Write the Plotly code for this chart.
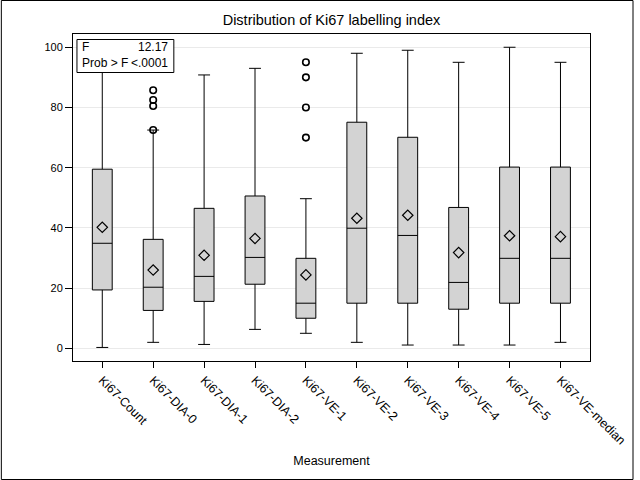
import plotly.graph_objects as go

categories = ["Ki67-Count", "Ki67-DIA-0", "Ki67-DIA-1", "Ki67-DIA-2", "Ki67-VE-1",
              "Ki67-VE-2", "Ki67-VE-3", "Ki67-VE-4", "Ki67-VE-5", "Ki67-VE-median"]
q1 = [19.4, 12.6, 15.6, 21.3, 10.0, 15.0, 15.0, 13.0, 15.0, 15.0]
median = [34.9, 20.3, 23.9, 30.2, 15.0, 39.9, 37.5, 21.9, 29.9, 29.9]
q3 = [59.5, 36.2, 46.5, 50.6, 29.9, 75.1, 70.1, 46.8, 60.2, 60.2]
lower = [0.3, 2.0, 1.3, 6.3, 5.0, 2.0, 1.1, 1.1, 1.1, 2.0]
upper = [100.0, 72.5, 90.8, 93.0, 49.7, 98.0, 99.0, 95.0, 100.0, 95.0]
means = [40.2, 26.0, 30.9, 36.5, 24.4, 43.2, 44.2, 31.8, 37.4, 37.1]
outlier_cat = ["Ki67-DIA-0", "Ki67-DIA-0", "Ki67-DIA-0", "Ki67-DIA-0",
               "Ki67-VE-1", "Ki67-VE-1", "Ki67-VE-1", "Ki67-VE-1"]
outlier_val = [85.7, 82.5, 80.5, 72.5, 95.0, 90.0, 80.0, 70.0]
y_ticks = [0, 20, 40, 60, 80, 100]

FONT = "Liberation Sans, Arial, sans-serif"

fig = go.Figure()
fig.add_trace(go.Box(
    x=categories, q1=q1, median=median, q3=q3,
    lowerfence=lower, upperfence=upper,
    boxpoints=False, width=0.39, whiskerwidth=0.6,
    fillcolor="#D3D3D3", line=dict(color="black", width=1),
    showlegend=False, hoverinfo="skip",
))
fig.add_trace(go.Scatter(
    x=outlier_cat, y=outlier_val, mode="markers",
    marker=dict(symbol="circle-open", size=6.5, color="black", line=dict(width=1.6)),
    showlegend=False,
))
fig.add_trace(go.Scatter(
    x=categories, y=means, mode="markers",
    marker=dict(symbol="diamond-open", size=8, color="black", line=dict(width=1.2)),
    showlegend=False,
))

L, R, T, B = 73, 44, 34, 119
W = 640 - L - R
H = 480 - T - B

def px_x(p):
    return (p - L) / W

def px_y(p):
    return 1 - (p - T) / H

shapes = [
    dict(type="rect", xref="paper", yref="paper",
         x0=px_x(0.5), x1=px_x(639.5), y0=px_y(479.5), y1=px_y(0.5),
         line=dict(color="black", width=1)),
    dict(type="rect", xref="paper", yref="paper",
         x0=px_x(77), x1=px_x(175), y0=px_y(72.5), y1=px_y(39.5),
         line=dict(color="black", width=1), fillcolor="white", layer="above"),
]
annotations = [
    dict(text="F", xref="paper", yref="paper", x=px_x(80.5), y=px_y(47),
         xanchor="left", yanchor="middle", showarrow=False, font=dict(size=12, color="black", family=FONT)),
    dict(text="12.17", xref="paper", yref="paper", x=px_x(171), y=px_y(47),
         xanchor="right", yanchor="middle", showarrow=False, font=dict(size=12, color="black", family=FONT)),
    dict(text="Prob > F", xref="paper", yref="paper", x=px_x(80.5), y=px_y(63),
         xanchor="left", yanchor="middle", showarrow=False, font=dict(size=12, color="black", family=FONT)),
    dict(text="<.0001", xref="paper", yref="paper", x=px_x(171), y=px_y(63),
         xanchor="right", yanchor="middle", showarrow=False, font=dict(size=12, color="black", family=FONT)),
]

fig.update_layout(
    width=640, height=480, autosize=False,
    margin=dict(l=L, r=R, t=T, b=B),
    paper_bgcolor="white", plot_bgcolor="white",
    font=dict(family=FONT, size=12, color="black"),
    title=dict(text="Distribution of Ki67 labelling index", x=0.5, xref="paper",
               y=1 - 20 / 480, yanchor="middle", font=dict(size=14.5, family=FONT)),
    shapes=shapes, annotations=annotations,
    xaxis=dict(
        type="category", categoryorder="array", categoryarray=categories,
        range=[-0.575, 9.58], tickangle=45, ticks="outside", ticklen=6,
        tickcolor="black", showline=True, linecolor="black", mirror=True,
        showgrid=False, tickfont=dict(size=12.5),
        title=dict(text="Measurement", font=dict(size=12.5), standoff=9),
    ),
    yaxis=dict(
        range=[-4.2, 104.4], tickvals=y_ticks, ticks="outside", ticklen=7,
        tickcolor="black", showline=True, linecolor="black", mirror=True,
        showgrid=True, gridcolor="#EAEAEA", zeroline=False, tickfont=dict(size=11),
    ),
)

fig.write_html("out.html", config={"displayModeBar": False, "responsive": False},
               post_script="document.body.style.margin='0';document.body.style.overflow='hidden';")
